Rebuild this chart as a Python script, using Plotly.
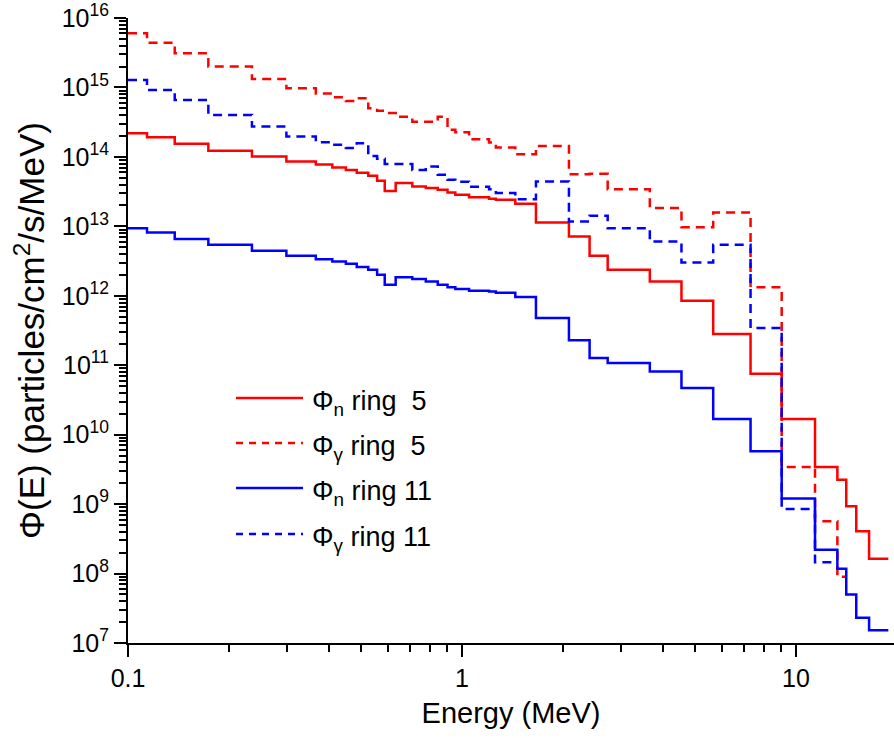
import plotly.graph_objects as go

# Energy group boundaries (MeV)
edges = [0.1, 0.114, 0.138, 0.174, 0.235, 0.298, 0.365, 0.409, 0.449, 0.484,
         0.524, 0.557, 0.587, 0.633, 0.71, 0.779, 0.846, 0.905, 0.955, 1.05,
         1.205, 1.263, 1.444, 1.665, 2.09, 2.41, 2.73, 3.65, 4.54, 5.65,
         7.31, 9.06, 11.4, 13.3, 14.14, 15.15, 16.55, 18.9]

# Phi_n ring 5 (red solid)
phi_n_ring5 = [2.19e14, 1.92e14, 1.54e14, 1.23e14, 1.01e14, 8.55e13, 7.74e13, 7.01e13, 6.5e13, 5.89e13,
               5.33e13, 4.52e13, 3.24e13, 4.2e13, 3.74e13, 3.55e13, 3.35e13, 3.06e13, 2.84e13, 2.63e13,
               2.49e13, 2.41e13, 2.11e13, 1.135e13, 7.13e12, 3.77e12, 2.37e12, 1.61e12, 8.47e11, 2.81e11,
               7.55e10, 1.68e10, 3.43e9, 2.25e9, 9.3e8, 4.06e8, 1.63e8]

# Phi_gamma ring 5 (red dashed)
phi_g_ring5 = [6.03e15, 4.41e15, 3.1e15, 2.0e15, 1.32e15, 9.7e14, 8.2e14, 7.2e14, 6.4e14, 7.0e14,
               5.0e14, 4.6e14, 4.3e14, 3.77e14, 3.2e14, 3.2e14, 3.8e14, 2.45e14, 2.27e14, 1.8e14,
               1.61e14, 1.36e14, 1.09e14, 1.44e14, 5.64e13, 5.7e13, 3.43e13, 1.83e13, 9.7e12, 1.58e13,
               1.33e12, 3.43e9, 5.66e8, 8.97e7]

# Phi_n ring 11 (blue solid)
phi_n_ring11 = [9.42e12, 8.15e12, 6.55e12, 5.42e12, 4.44e12, 3.77e12, 3.37e12, 3.12e12, 2.89e12, 2.59e12,
                2.37e12, 2.0e12, 1.44e12, 1.85e12, 1.74e12, 1.61e12, 1.44e12, 1.33e12, 1.25e12, 1.18e12,
                1.15e12, 1.11e12, 9.57e11, 4.78e11, 2.28e11, 1.27e11, 1.08e11, 8.15e10, 4.7e10, 1.68e10,
                5.75e9, 1.2e9, 2.21e8, 1.17e8, 4.99e7, 2.31e7, 1.53e7]

# Phi_gamma ring 11 (blue dashed)
phi_g_ring11 = [1.28e15, 9.2e14, 6.6e14, 4.02e14, 2.73e14, 1.96e14, 1.63e14, 1.49e14, 1.34e14, 1.57e14,
                1.03e14, 9.4e13, 7.9e13, 7.9e13, 6.5e13, 7.25e13, 5.51e13, 4.7e13, 4.4e13, 3.7e13,
                3.43e13, 3.03e13, 2.46e13, 4.41e13, 1.17e13, 1.42e13, 9.42e12, 6.04e12, 3.01e12, 5.42e12,
                3.43e11, 8.53e8, 1.46e8]

series = [
    ("Φ<sub>n</sub> ring  5", phi_n_ring5, "#ff0000", "solid"),
    ("Φ<sub>γ</sub> ring  5", phi_g_ring5, "#ff0000", "9px,6px"),
    ("Φ<sub>n</sub> ring 11", phi_n_ring11, "#0000ff", "solid"),
    ("Φ<sub>γ</sub> ring 11", phi_g_ring11, "#0000ff", "9px,6px"),
]

FONT = "Liberation Sans, Arial, sans-serif"

fig = go.Figure()
for name, vals, color, dash in series:
    n = len(vals)
    xs = edges[:n + 1]
    ys = list(vals) + [vals[-1]]
    fig.add_trace(go.Scatter(x=xs, y=ys, mode="lines", line_shape="hv",
                             line=dict(color=color, width=2.5, dash=dash),
                             name=name, showlegend=False))

# manual legend
leg_rows = [0.392, 0.32, 0.248, 0.1744]
for (name, vals, color, dash), yp in zip(series, leg_rows):
    fig.add_shape(type="line", xref="paper", yref="paper", x0=0.141, x1=0.2285, y0=yp, y1=yp,
                  line=dict(color=color, width=2.5, dash=("7px,6px" if dash != "solid" else dash)))
    fig.add_annotation(xref="paper", yref="paper", x=0.2372, y=yp, xanchor="left", yanchor="middle",
                       text=name, showarrow=False, yshift=-5,
                       font=dict(family=FONT, size=27, color="black"))

ymaj = [10.0 ** k for k in range(7, 17)]
ytext = ["10<sup>%d</sup>" % k for k in range(7, 17)]
yminor = [m * 10.0 ** k for k in range(7, 16) for m in range(2, 10)]
xmaj = [0.1, 1, 10]
xtext = ["0.1", "1", "10"]
xminor = [m * 10.0 ** k for k in (-1, 0) for m in range(2, 10)] + [20]

fig.update_layout(
    width=894, height=738,
    margin=dict(l=128, r=0, t=18, b=95),
    paper_bgcolor="white", plot_bgcolor="white",
    font=dict(family=FONT, color="black"),
    xaxis=dict(type="log", range=[-1, 1.2934], showgrid=False, zeroline=False,
               showline=True, linecolor="black", linewidth=2,
               ticks="outside", ticklen=12, tickwidth=2, tickcolor="black",
               tickmode="array", tickvals=xmaj, ticktext=xtext,
               tickfont=dict(family=FONT, size=25),
               minor=dict(tickmode="array", tickvals=xminor, ticks="outside",
                          ticklen=7, tickwidth=1.5, tickcolor="black", showgrid=False),
               title=dict(text="Energy (MeV)", font=dict(family=FONT, size=29), standoff=12)),
    yaxis=dict(type="log", range=[7, 16], showgrid=False, zeroline=False,
               showline=True, linecolor="black", linewidth=2,
               ticks="outside", ticklen=12, tickwidth=2, tickcolor="black",
               tickmode="array", tickvals=ymaj, ticktext=ytext,
               tickfont=dict(family=FONT, size=25),
               minor=dict(tickmode="array", tickvals=yminor, ticks="outside",
                          ticklen=7, tickwidth=1.5, tickcolor="black", showgrid=False),
               title=dict(text="Φ(E) (particles/cm<sup>2</sup>/s/MeV)",
                          font=dict(family=FONT, size=35), standoff=6)),
)

fig.write_html("out.html")
